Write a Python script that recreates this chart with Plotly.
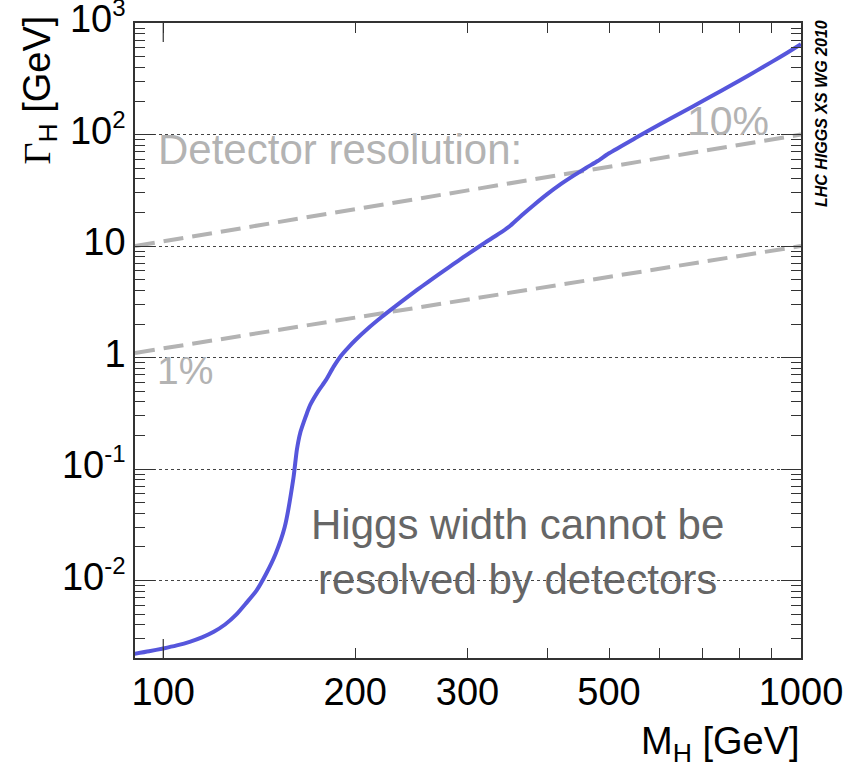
import plotly.graph_objects as go

# Higgs mass [GeV] and total width [GeV]
mass = [90, 95, 100, 105, 110, 115, 120, 125, 130, 135, 140, 145, 150, 155, 160,
        162, 164, 166, 168, 170, 175, 180, 185, 190, 195, 200, 210, 220, 230, 240,
        250, 260, 270, 280, 290, 300, 320, 340, 350, 360, 370, 380, 400, 420, 440,
        460, 480, 500, 550, 600, 650, 700, 750, 800, 850, 900, 950, 1000]
width = [2.20e-3, 2.32e-3, 2.46e-3, 2.62e-3, 2.82e-3, 3.09e-3, 3.47e-3, 4.03e-3,
         4.91e-3, 6.3e-3, 8.12e-3, 1.15e-2, 1.73e-2, 3.0e-2, 8.3e-2,
         0.149, 0.212, 0.262, 0.317, 0.376, 0.50, 0.63, 0.83, 1.04, 1.23, 1.43,
         1.85, 2.31, 2.82, 3.40, 4.04, 4.76, 5.55, 6.42, 7.38, 8.43, 10.8, 13.5,
         15.2, 17.6, 20.2, 23.0, 29.2, 35.9, 42.8, 50.2, 58.0, 68.0, 93.1, 123,
         158, 199, 247, 304, 371, 449, 540, 647]

# detector resolution reference lines (end points)
res_mass = [90.3, 1000]
res_10pct = [10, 100]
res_1pct = [1.1, 10]

x_ticks = [100, 200, 300, 500, 1000]
x_ticklabels = ["100", "200", "300", "500", "1000"]
x_minor = [90, 400, 600, 700, 800, 900]
y_ticks = [1e-2, 1e-1, 1, 10, 100, 1000]
y_exponents = ["-2", "-1", None, None, "2", "3"]
y_ticklabels = ["10<sup><span style='font-size:24px'>%s</span></sup>" % e if e else ("1" if v == 1 else "10")
                for e, v in zip(y_exponents, y_ticks)]
y_minor = [m * d for d in [1e-3, 1e-2, 1e-1, 1, 10, 100] for m in range(2, 10)]

FONT = "Liberation Sans, Arial, Helvetica, sans-serif"
GRAY = "#b3b3b3"
AX = "#333333"

fig = go.Figure()
for yv in (res_10pct, res_1pct):
    fig.add_trace(go.Scatter(x=res_mass, y=yv, mode="lines",
                             line=dict(color=GRAY, width=4, dash="20px,9px"),
                             showlegend=False, hoverinfo="skip"))
fig.add_trace(go.Scatter(x=mass, y=width, mode="lines",
                         line=dict(color="#5656dc", width=4, shape="spline", smoothing=0.6),
                         showlegend=False))

fig.update_xaxes(type="log", range=[1.9557, 3.0], tickmode="array",
                 tickvals=x_ticks, ticktext=x_ticklabels,
                 ticks="inside", ticklen=10, tickwidth=1.2, tickcolor=AX,
                 minor=dict(tickmode="array", tickvals=x_minor, ticks="inside",
                            ticklen=10, tickwidth=1.2, tickcolor=AX, showgrid=False),
                 showline=True, linecolor=AX, linewidth=1.6, mirror="ticks",
                 showgrid=False, zeroline=False, ticklabeloverflow="allow",
                 automargin=False,
                 tickfont=dict(family=FONT, size=38, color="black"))
fig.update_yaxes(type="log", range=[-2.695, 3.001], tickmode="array",
                 tickvals=y_ticks, ticktext=y_ticklabels,
                 ticks="inside", ticklen=20, tickwidth=1.2, tickcolor=AX,
                 minor=dict(tickmode="array", tickvals=y_minor, ticks="inside",
                            ticklen=10, tickwidth=1.2, tickcolor=AX, showgrid=False),
                 showline=True, linecolor=AX, linewidth=1.6, mirror="ticks",
                 showgrid=True, gridcolor="#444444", gridwidth=1, griddash="dot",
                 zeroline=False, ticklabeloverflow="allow", automargin=False,
                 ticklabelshift=-4,
                 tickfont=dict(family=FONT, size=38, color="black"))

# long ticks at M=100 (bottom and top)
for y0, y1 in ((0, 19 / 635), (1 - 19 / 635, 1)):
    fig.add_shape(type="line", xref="x", yref="paper", x0=100, x1=100, y0=y0, y1=y1,
                  line=dict(color=AX, width=1.2))

def px(X):
    return (X - 135) / 666

def py(Y):
    return (658 - Y) / 635

ann = [
    dict(text="Detector resolution:", x=px(339.5), y=py(149), size=42, color=GRAY),
    dict(text="10%", x=px(728), y=py(121), size=41, color=GRAY),
    dict(text="1%", x=px(185), y=py(370), size=39, color=GRAY),
    dict(text="Higgs width cannot be<br>resolved by detectors", x=px(517.5), y=py(552),
         size=42, color="#666666"),
]
for a in ann:
    fig.add_annotation(xref="paper", yref="paper", x=a["x"], y=a["y"], text=a["text"],
                       showarrow=False, xanchor="center", yanchor="middle",
                       font=dict(family=FONT, size=a["size"], color=a["color"]))

fig.add_annotation(xref="paper", yref="paper", x=px(821), y=py(114),
                   text="<b><i>LHC HIGGS XS WG 2010</i></b>", textangle=-90,
                   showarrow=False, xanchor="center", yanchor="middle",
                   font=dict(family=FONT, size=16, color="black"))
fig.add_annotation(xref="paper", yref="paper", x=px(802), y=py(744),
                   text="M<sub>H</sub> [GeV]", showarrow=False,
                   xanchor="right", yanchor="middle",
                   font=dict(family=FONT, size=38, color="black"))
fig.add_annotation(xref="paper", yref="paper", x=px(39), y=py(14),
                   text="<span style='font-family:Liberation Serif'>Γ</span><sub>H</sub> [GeV]",
                   textangle=-90, showarrow=False, xanchor="center", yanchor="top",
                   font=dict(family=FONT, size=38, color="black"))

fig.update_layout(width=856, height=768, margin=dict(l=135, r=55, t=23, b=110),
                  paper_bgcolor="white", plot_bgcolor="white", showlegend=False)

fig.write_html("out.html")
